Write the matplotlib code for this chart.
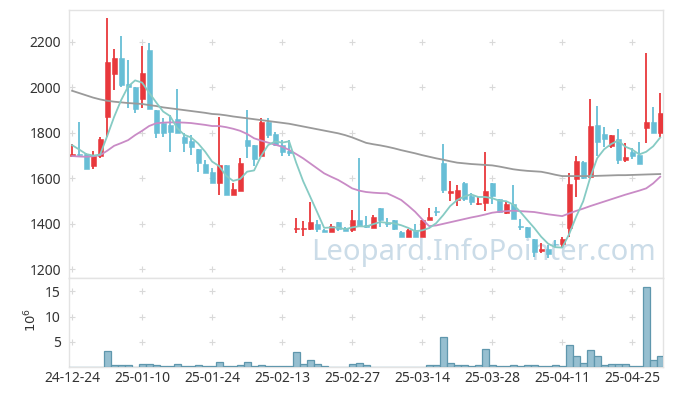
import matplotlib
matplotlib.use("Agg")
import matplotlib.pyplot as plt
import numpy as np
import pandas as pd

# ---------------- data ----------------
opens = [1700, 1707, 1707, 1655, 1700, 1868, 2060, 2127, 2015, 2000,
         1947, 2164, 1900, 1842, 1834, 1861, 1783, 1765, 1729, 1663,
         1628, 1581, 1659, 1527, 1546, 1768, 1745, 1699, 1847, 1795,
         1745, 1722, 1376, 1378, 1376, 1399, 1373, 1366, 1408, 1382,
         1373, 1417, 1395, 1383, 1468, 1405, 1417, 1364, 1344, 1373,
         1344, 1417, 1457, 1666, 1537, 1505, 1578, 1522, 1487, 1490,
         1581, 1508, 1449, 1487, 1392, 1385, 1333, 1279, 1288, 1313,
         1311, 1380, 1597, 1671, 1606, 1834, 1793, 1744, 1771, 1680,
         1717, 1702, 1823, 1848, 1801]
highs = [1749, 1849, 1710, 1722, 1780, 2303, 2167, 2225, 2119, 2000,
         2182, 2196, 1900, 1864, 1878, 1991, 1798, 1790, 1729, 1680,
         1644, 1871, 1659, 1581, 1688, 1900, 1745, 1864, 1864, 1805,
         1768, 1768, 1424, 1411, 1494, 1417, 1379, 1398, 1408, 1387,
         1461, 1688, 1434, 1439, 1468, 1424, 1417, 1368, 1376, 1398,
         1417, 1468, 1475, 1751, 1588, 1571, 1586, 1534, 1519, 1717,
         1581, 1508, 1497, 1571, 1421, 1385, 1333, 1314, 1307, 1329,
         1344, 1622, 1698, 1675, 1947, 1918, 1827, 1790, 1815, 1754,
         1732, 1761, 2149, 1912, 1976]
lows = [1692, 1700, 1640, 1640, 1688, 1780, 1988, 2000, 1908, 1886,
        1908, 1906, 1776, 1783, 1717, 1800, 1717, 1702, 1629, 1622,
        1581, 1527, 1527, 1527, 1546, 1688, 1654, 1699, 1776, 1744,
        1698, 1698, 1358, 1348, 1373, 1365, 1362, 1366, 1368, 1368,
        1366, 1405, 1380, 1380, 1388, 1388, 1373, 1341, 1341, 1344,
        1344, 1417, 1433, 1537, 1502, 1479, 1501, 1483, 1483, 1458,
        1487, 1446, 1442, 1421, 1374, 1336, 1256, 1270, 1248, 1300,
        1300, 1341, 1516, 1599, 1599, 1698, 1739, 1732, 1663, 1673,
        1683, 1663, 1757, 1801, 1783]
closes = [1707, 1702, 1642, 1700, 1771, 2110, 2127, 2010, 2000, 1906,
          2061, 1906, 1798, 1798, 1805, 1800, 1757, 1739, 1666, 1625,
          1581, 1659, 1527, 1553, 1666, 1742, 1686, 1847, 1790, 1746,
          1717, 1713, 1381, 1381, 1408, 1376, 1366, 1390, 1379, 1370,
          1417, 1390, 1385, 1431, 1417, 1399, 1379, 1344, 1373, 1344,
          1417, 1429, 1452, 1549, 1544, 1549, 1508, 1497, 1493, 1544,
          1522, 1453, 1486, 1421, 1386, 1341, 1278, 1291, 1267, 1310,
          1332, 1575, 1675, 1603, 1830, 1761, 1771, 1790, 1680, 1695,
          1698, 1663, 1848, 1801, 1886]
volumes = [0.05, 0.15, 0.05, 0.05, 0.05, 3.3, 0.4, 0.4, 0.4, 0.15,
           0.6, 0.6, 0.4, 0.2, 0.2, 0.6, 0.2, 0.2, 0.4, 0.2,
           0.2, 1.0, 0.2, 0.2, 0.4, 1.0, 0.2, 0.4, 0.2, 0.2,
           0.2, 0.2, 3.1, 0.6, 1.4, 0.6, 0.2, 0.15, 0.15, 0.15,
           0.6, 0.8, 0.4, 0.15, 0.15, 0.15, 0.15, 0.15, 0.15, 0.05,
           0.15, 0.4, 0.4, 5.9, 0.8, 0.4, 0.4, 0.2, 0.4, 3.7,
           0.4, 0.2, 0.2, 0.4, 0.2, 0.4, 0.4, 0.2, 0.2, 0.4,
           0.2, 4.3, 2.2, 0.8, 3.5, 2.2, 0.4, 0.6, 0.6, 0.6,
           0.2, 0.2, 15.9, 1.4, 2.2]
ma5_head = [1746, 1727, 1707, 1700]
ma20 = [1698, 1696, 1695, 1697, 1702, 1721, 1743, 1755, 1768, 1790,
        1809, 1830, 1842, 1845, 1846, 1846, 1845, 1843, 1839, 1835,
        1830, 1830, 1825, 1818, 1809, 1795, 1776, 1766, 1757, 1748,
        1739, 1725, 1707, 1688, 1666, 1644, 1622, 1607, 1593, 1575,
        1556, 1546, 1540, 1537, 1535, 1534, 1520, 1505, 1480, 1453,
        1420, 1390, 1393, 1400, 1407, 1414, 1421, 1428, 1434, 1441,
        1449, 1453, 1456, 1458, 1456, 1454, 1452, 1447, 1442, 1438,
        1434, 1446, 1457, 1467, 1478, 1488, 1498, 1508, 1518, 1528,
        1537, 1546, 1556, 1578, 1607]
ma_long = [1985, 1975, 1965, 1955, 1947, 1941, 1937, 1934, 1931, 1929,
           1927, 1922, 1918, 1912, 1908, 1904, 1900, 1896, 1892, 1888,
           1883, 1881, 1877, 1872, 1868, 1864, 1860, 1856, 1852, 1848,
           1844, 1840, 1834, 1828, 1822, 1816, 1810, 1804, 1798, 1790,
           1780, 1768, 1756, 1750, 1745, 1739, 1732, 1724, 1717, 1710,
           1702, 1695, 1688, 1682, 1675, 1669, 1666, 1663, 1661, 1659,
           1657, 1652, 1646, 1640, 1636, 1633, 1631, 1629, 1623, 1616,
           1610, 1610, 1610, 1610, 1610, 1611, 1612, 1613, 1614, 1614,
           1615, 1616, 1617, 1618, 1619]
tick_idx = [0, 10, 20, 30, 40, 50, 60, 70, 80]
tick_labels = ['24-12-24', '25-01-10', '25-01-24', '25-02-13', '25-02-27',
               '25-03-14', '25-03-28', '25-04-11', '25-04-25']
price_ticks = [1200, 1400, 1600, 1800, 2000, 2200]
vol_ticks = [5, 10, 15]

# ---------------- styling ----------------
RED = '#e8383c'
BLUE = '#67bed6'
GRIDC = '#d9d9d9'
SPINE = '#e3e3e3'
TXT = '#333333'
FONT = 'Noto Sans'

ma5 = pd.Series(closes).rolling(5).mean().to_numpy()
ma5[:4] = ma5_head

x = np.arange(len(opens))

fig = plt.figure(figsize=(6.73, 3.96), dpi=100)
left, right = 69.3 / 673, 663 / 673
ax = fig.add_axes([left, 1 - 278 / 396, right - left, (278 - 10) / 396])
axv = fig.add_axes([left, 1 - 367.3 / 396, right - left, (367.3 - 278) / 396])

# candles
for i in x:
    up = closes[i] >= opens[i]
    c = RED if up else BLUE
    ax.vlines(i, lows[i], highs[i], color=c, lw=1.3, zorder=3)
    b0, b1 = min(opens[i], closes[i]), max(opens[i], closes[i])
    h = max(b1 - b0, 3)
    ax.bar(i, h, bottom=b0, width=0.72, color=c, edgecolor=c, lw=0.4, zorder=4)

ax.plot(x, ma_long, color='#9a9a9a', lw=1.3, zorder=5)
ax.plot(x, ma20, color='#c98bc6', lw=1.3, zorder=5)
ax.plot(x, ma5, color='#86cbc4', lw=1.3, zorder=5)

ax.set_xlim(-0.4, 84.4)
ax.set_ylim(1162, 2340)
ax.set_yticks(price_ticks)
ax.set_yticklabels([str(v) for v in price_ticks], fontfamily=FONT, fontsize=10, color=TXT)
ax.set_xticks([])

ax.text(484 / 673, 1 - 252 / 396, 'Leopard.InfoPointer.com', ha='center', va='center',
        fontsize=21, color='#cbdce8', fontfamily=FONT, zorder=1,
        transform=fig.transFigure)

# volume
axv.bar(x, volumes, width=1.0, color='#96bfd0', edgecolor='#5f97ad', lw=0.9, zorder=3)
axv.set_xlim(-0.4, 84.4)
axv.set_ylim(0, 17.6)
axv.set_yticks(vol_ticks)
axv.set_yticklabels([str(v) for v in vol_ticks], fontfamily=FONT, fontsize=10, color=TXT)
axv.set_xticks(tick_idx)
axv.set_xticklabels(tick_labels, fontfamily=FONT, fontsize=10, color=TXT)
fig.text(31 / 673, 1 - 320 / 396, r'$10^6$', rotation=90, ha='center', va='center',
         fontsize=9.5, color=TXT)

for a, yt in ((ax, price_ticks), (axv, vol_ticks)):
    a.tick_params(length=0, pad=6)
    for s in a.spines.values():
        s.set_color(SPINE)
        s.set_linewidth(1.0)
    xx, yy = np.meshgrid(tick_idx, yt)
    a.scatter(xx.ravel(), yy.ravel(), marker='+', s=16, color=GRIDC, lw=0.8, zorder=2)

axv.tick_params(axis='x', pad=3)

fig.savefig('out.png', dpi=100)
